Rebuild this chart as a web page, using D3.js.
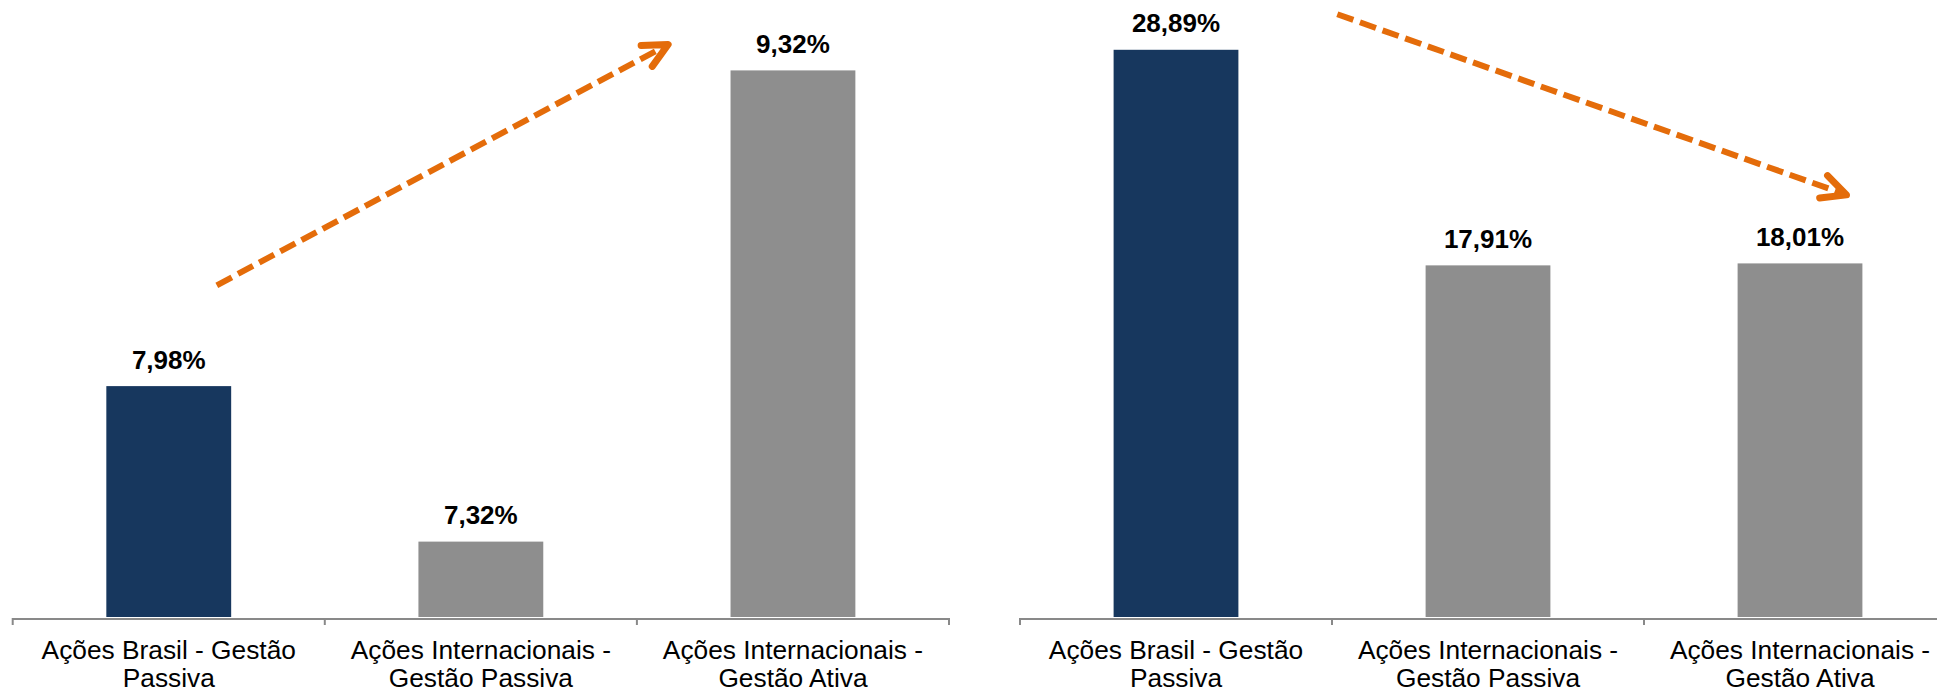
<!DOCTYPE html>
<html>
<head>
<meta charset="utf-8">
<script src="https://cdn.jsdelivr.net/npm/d3@7"></script>
<style>
  html, body { margin: 0; padding: 0; background: #ffffff; overflow: hidden; }
  svg { display: block; }
  text { font-family: "Liberation Sans", Arial, sans-serif; fill: #000; }
</style>
</head>
<body>
<svg id="chart" width="1937" height="690"></svg>
<script>
// Categories (each label split into its two display lines)
const categories = ["Brasil Passiva", "Internacionais Passiva", "Internacionais Ativa"];
const categoryLines = [
  ["Ações Brasil - Gestão", "Passiva"],
  ["Ações Internacionais -", "Gestão Passiva"],
  ["Ações Internacionais -", "Gestão Ativa"]
];

// Series values (percent)
const returnsLeft = [7.98, 7.32, 9.32];
const returnsRight = [28.89, 17.91, 18.01];

// Value-axis ranges of the two panels
const domainLeft = [7, 9.5];
const domainRight = [0, 30];

// Bar fills: Brazil passive highlighted, the international funds in grey
const barColors = ["#17375E", "#8E8E8E", "#8E8E8E"];

// Trend arrows, given as [fraction of panel width, axis value]
const arrowLeft = { from: [0.218, 8.408], to: [0.700, 9.43] };
const arrowRight = { from: [0.339, 30.7], to: [0.883, 21.5] };

const svg = d3.select("#chart");
const plotTop = 28, plotBottom = 617, axisY = 619;
const fmt = v => d3.format(".2f")(v).replace(".", ",") + "%";

function drawPanel(x0, x1, values, domain, arrow) {
  const g = svg.append("g");
  const x = d3.scaleBand().domain(categories).range([x0, x1])
    .paddingInner(0.6).paddingOuter(0.3);
  const y = d3.scaleLinear().domain(domain).range([plotBottom, plotTop]);
  const data = categories.map((c, i) => ({ c, v: values[i], i }));

  // bars
  g.selectAll("rect.bar").data(data).join("rect")
    .attr("class", "bar")
    .attr("x", d => x(d.c))
    .attr("width", x.bandwidth())
    .attr("y", d => y(d.v))
    .attr("height", d => y(domain[0]) - y(d.v))
    .attr("fill", d => barColors[d.i]);

  // value labels
  g.selectAll("text.val").data(data).join("text")
    .attr("class", "val")
    .attr("x", d => x(d.c) + x.bandwidth() / 2)
    .attr("y", d => y(d.v) - 17.5)
    .attr("text-anchor", "middle")
    .attr("font-size", 26)
    .attr("font-weight", "bold")
    .text(d => fmt(d.v));

  // category axis: line with ticks between categories
  const axisG = g.append("g").attr("transform", `translate(0,${axisY})`);
  axisG.append("line")
    .attr("x1", x0).attr("x2", x1)
    .attr("stroke", "#898989").attr("stroke-width", 2);
  const step = x.step();
  const bounds = categories.map(c => x(c) - step * 0.3).concat([x1]);
  axisG.selectAll("line.tick").data(bounds).join("line")
    .attr("class", "tick")
    .attr("x1", d => d).attr("x2", d => d)
    .attr("y1", -1).attr("y2", 6)
    .attr("stroke", "#898989").attr("stroke-width", 2);

  // category labels
  const lab = g.selectAll("text.cat").data(data).join("text")
    .attr("class", "cat")
    .attr("text-anchor", "middle")
    .attr("font-size", 26.3)
    .attr("transform", d => `translate(${x(d.c) + x.bandwidth() / 2},0)`);
  lab.selectAll("tspan").data(d => categoryLines[d.i]).join("tspan")
    .attr("x", 0)
    .attr("y", (d, k) => 659 + k * 27.5)
    .text(d => d);

  // dashed trend arrow
  const px = f => x0 + f * (x1 - x0);
  const sx = px(arrow.from[0]), sy = y(arrow.from[1]);
  const ex = px(arrow.to[0]), ey = y(arrow.to[1]);
  const ang = Math.atan2(ey - sy, ex - sx);
  const color = "#E46C0A";
  g.append("line")
    .attr("x1", sx).attr("y1", sy).attr("x2", ex - 3 * Math.cos(ang)).attr("y2", ey - 3 * Math.sin(ang))
    .attr("stroke", color).attr("stroke-width", 6)
    .attr("stroke-dasharray", "17 7");
  const L = 27, a = 26 * Math.PI / 180;
  const p1 = [ex - L * Math.cos(ang - a), ey - L * Math.sin(ang - a)];
  const p2 = [ex - L * Math.cos(ang + a), ey - L * Math.sin(ang + a)];
  g.append("path")
    .attr("d", d3.line()([p1, [ex, ey], p2]))
    .attr("fill", "none").attr("stroke", color).attr("stroke-width", 7)
    .attr("stroke-linecap", "round").attr("stroke-linejoin", "round");
}

drawPanel(12.7, 949, returnsLeft, domainLeft, arrowLeft);
drawPanel(1020, 1956, returnsRight, domainRight, arrowRight);
</script>
</body>
</html>
